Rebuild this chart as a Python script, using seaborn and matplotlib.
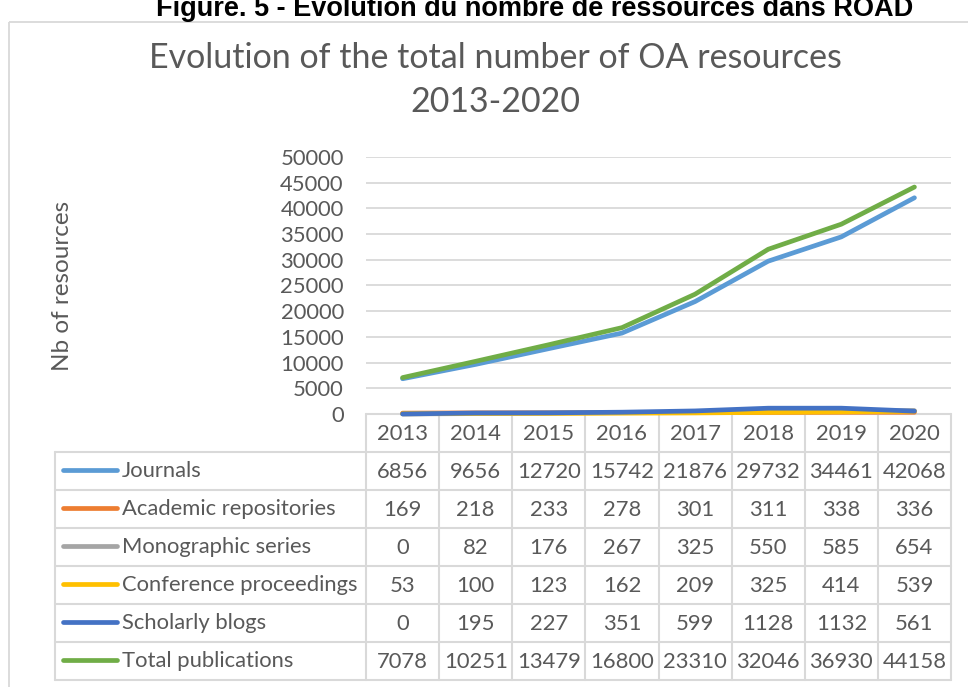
import pandas as pd
import numpy as np
import seaborn as sns
import matplotlib.pyplot as plt
from matplotlib.patches import Rectangle

# données
years = [2013, 2014, 2015, 2016, 2017, 2018, 2019, 2020]
series_names = ['Journals', 'Academic repositories', 'Monographic series',
                'Conference proceedings', 'Scholarly blogs', 'Total publications']
journals = [6856, 9656, 12720, 15742, 21876, 29732, 34461, 42068]
academic_repositories = [169, 218, 233, 278, 301, 311, 338, 336]
monographic_series = [0, 82, 176, 267, 325, 550, 585, 654]
conference_proceedings = [53, 100, 123, 162, 209, 325, 414, 539]
scholarly_blogs = [0, 195, 227, 351, 599, 1128, 1132, 561]
total_publications = [7078, 10251, 13479, 16800, 23310, 32046, 36930, 44158]
y_ticks = list(range(0, 50001, 5000))
colors = ['#5B9BD5', '#ED7D31', '#A5A5A5', '#FFC000', '#4472C4', '#70AD47']

values = [journals, academic_repositories, monographic_series,
          conference_proceedings, scholarly_blogs, total_publications]
df = pd.DataFrame({
    'year': years * len(series_names),
    'serie': [n for n in series_names for _ in years],
    'value': [v for vals in values for v in vals],
})
palette = dict(zip(series_names, colors))

sns.set_theme(style='white')
plt.rcParams['font.family'] = ['Lato', 'DejaVu Sans']
txt_col = '#595959'
grid_col = '#d9d9d9'
fs = 15.8

W, H = 968, 687
fig = plt.figure(figsize=(W / 100, H / 100), dpi=100)

# calque en pixels pour cadre + tableau
ov = fig.add_axes([0, 0, 1, 1])
ov.set_xlim(0, W)
ov.set_ylim(H, 0)
ov.axis('off')
ov.add_patch(Rectangle((9, 22), 1100, 800, fill=False, ec=grid_col, lw=1.3))

# zone du graphique
plot_l, plot_r, plot_t, plot_b = 366, 951, 157, 414
ax = fig.add_axes([plot_l / W, 1 - plot_b / H, (plot_r - plot_l) / W, (plot_b - plot_t) / H])
ax.patch.set_alpha(0)
ax.set_zorder(3)
sns.lineplot(data=df, x='year', y='value', hue='serie', hue_order=series_names,
             palette=palette, linewidth=3.4, legend=False, ax=ax)
for ln in ax.lines:
    ln.set_solid_capstyle('round')
    ln.set_clip_on(False)
ax.set_xlim(years[0] - 0.5, years[-1] + 0.5)
ax.set_ylim(0, 50000)
ax.set_yticks(y_ticks)
ax.set_yticklabels([str(t) for t in y_ticks], fontsize=fs, color=txt_col)
ax.tick_params(axis='y', length=0, pad=16)
ax.set_xticks([])
ax.set_xlabel('')
ax.grid(axis='y', color=grid_col, lw=1.3)
for s in ax.spines.values():
    s.set_visible(False)
ax.set_ylabel('Nb of resources', fontsize=17.5, color=txt_col)
ax.yaxis.set_label_coords((73 - plot_l) / (plot_r - plot_l), 0.5)

# tableau
col_w = (plot_r - plot_l) / len(years)
row_h = 38
lab_l = 55
n_rows = len(series_names)
bottom = plot_b + row_h * (n_rows + 1)
ov.plot([plot_l, plot_r], [plot_b, plot_b], color=grid_col, lw=1.5)
for i in range(len(years) + 1):
    xx = plot_l + i * col_w
    ov.plot([xx, xx], [plot_b, bottom], color=grid_col, lw=1.5)
for r in range(1, n_rows + 2):
    yy = plot_b + r * row_h
    ov.plot([lab_l, plot_r], [yy, yy], color=grid_col, lw=1.5)
ov.plot([lab_l, lab_l], [plot_b + row_h, bottom], color=grid_col, lw=1.5)

for i, yr in enumerate(years):
    ov.text(plot_l + (i + 0.5) * col_w, plot_b + row_h / 2 + 1, str(yr),
            ha='center', va='center', fontsize=fs, color=txt_col)
for r, (name, vals) in enumerate(zip(series_names, values)):
    yc = plot_b + (r + 1.5) * row_h
    ov.plot([63, 117], [yc - 1, yc - 1], color=palette[name], lw=3.4, solid_capstyle='round')
    ov.text(122, yc, name, ha='left', va='center', fontsize=fs, color=txt_col)
    for i, v in enumerate(vals):
        ov.text(plot_l + (i + 0.5) * col_w, yc + 1, str(v),
                ha='center', va='center', fontsize=fs, color=txt_col)

# titres
fig.text(495 / W, 1 - 58 / H, 'Evolution of the total number of OA resources',
         ha='center', va='center', fontsize=24.5, color=txt_col)
fig.text(495 / W, 1 - 102 / H, '2013-2020',
         ha='center', va='center', fontsize=24.5, color=txt_col)
fig.text(535 / W, 1 - 16 / H, 'Figure. 5 - Evolution du nombre de ressources dans ROAD',
         ha='center', va='baseline', fontsize=19.5, color='black', fontweight='bold',
         family=['Liberation Sans', 'DejaVu Sans'])

plt.savefig('out.png', dpi=100)
